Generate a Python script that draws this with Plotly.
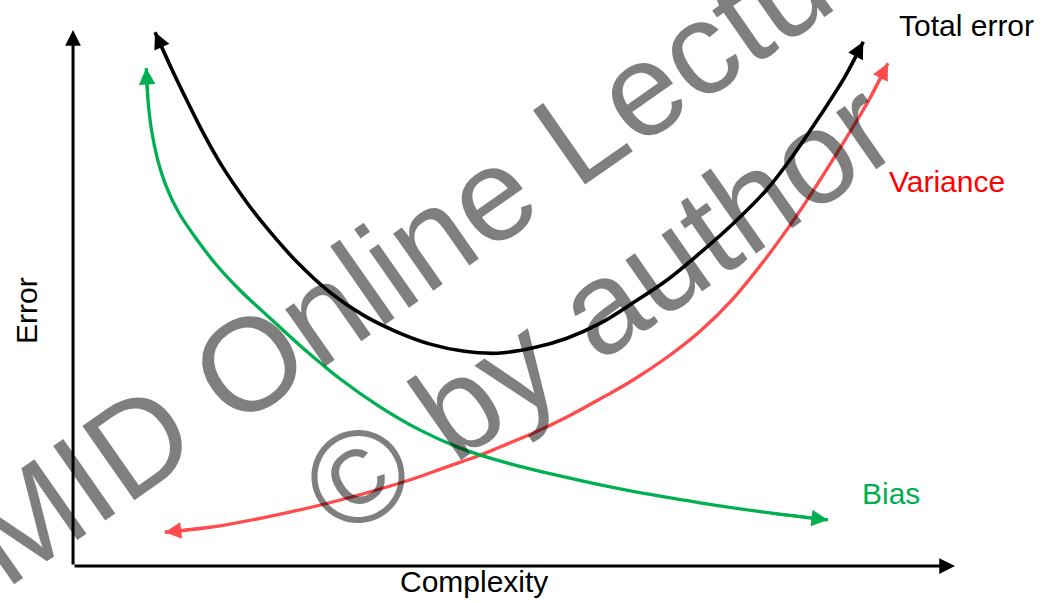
import plotly.graph_objects as go

# ---- data (complexity units on x, error units on y) ----
total_x = [0.93, 1.12, 1.29, 1.47, 1.69, 1.95, 2.15, 2.54, 2.91, 3.29, 3.67, 4.05, 4.42,
           4.81, 5.22, 5.60, 5.98, 6.35, 6.74, 7.11, 7.48, 7.87, 8.16, 8.47, 8.75, 8.96]
total_y = [9.96, 9.27, 8.69, 8.10, 7.46, 6.83, 6.40, 5.67, 5.11, 4.68, 4.37, 4.14, 4.01,
           3.97, 4.07, 4.25, 4.53, 4.91, 5.34, 5.84, 6.38, 7.03, 7.65, 8.40, 9.12, 9.78]

bias_x = [0.83, 0.85, 0.89, 0.96, 1.06, 1.20, 1.40, 1.62, 1.89, 2.21, 2.57, 3.03, 3.48,
          3.93, 4.39, 4.84, 5.52, 6.32, 7.11, 7.90, 8.56]
bias_y = [9.29, 8.69, 8.13, 7.58, 7.07, 6.59, 6.10, 5.63, 5.15, 4.66, 4.12, 3.49, 2.97,
          2.54, 2.20, 1.96, 1.68, 1.40, 1.18, 0.99, 0.86]

var_x = [1.04, 1.59, 2.15, 2.91, 3.79, 4.24, 4.62, 4.84, 5.22, 5.60, 5.98, 6.35, 6.74,
         7.11, 7.48, 7.87, 8.24, 8.55, 8.81, 9.03, 9.24]
var_y = [0.63, 0.73, 0.90, 1.18, 1.59, 1.85, 2.07, 2.22, 2.48, 2.78, 3.12, 3.47, 3.90,
         4.38, 4.98, 5.77, 6.62, 7.41, 8.10, 8.71, 9.38]

axis_max_x = 10
axis_max_y = 10

curve_names = ["Total error", "Variance", "Bias"]
axis_titles = ["Complexity", "Error"]
watermark = ["CMID Online Lecture", "\u00a9 by author"]

BLACK = "#000000"
GREEN = "#00B050"
RED_LINE = "rgb(255,75,75)"
RED_TEXT = "#FF0000"
FONT = "Arial, Liberation Sans, sans-serif"

fig = go.Figure()

curves = [
    (total_x, total_y, BLACK, 3.6),
    (var_x, var_y, RED_LINE, 3.3),
    (bias_x, bias_y, GREEN, 3.3),
]
for xs, ys, col, w in curves:
    fig.add_trace(go.Scatter(x=xs, y=ys, mode="lines",
                             line=dict(color=col, width=w, shape="spline", smoothing=1.0),
                             hoverinfo="skip", showlegend=False))

annotations = []


def arrow(x, y, ax, ay, col, w, size=1.1):
    return dict(x=x, y=y, ax=ax, ay=ay, xref="x", yref="y", axref="x", ayref="y",
                text="", showarrow=True, arrowhead=2, arrowsize=size, arrowwidth=w,
                arrowcolor=col, standoff=0, startstandoff=0)


# axes with arrow heads
annotations.append(arrow(axis_max_x, 0, 0, 0, BLACK, 3, 1.05))
annotations.append(arrow(0, axis_max_y, 0, 0, BLACK, 3, 1.05))

# double-headed curves
for xs, ys, col, w in curves:
    annotations.append(arrow(xs[0], ys[0], xs[1], ys[1], col, 3))
    annotations.append(arrow(xs[-1], ys[-1], xs[-2], ys[-2], col, 3))

W, H = 1043, 603


def px(xp, yp):
    return xp / W, 1 - yp / H


lab = [
    (curve_names[0], 897, 25, BLACK, "left", 0),
    (curve_names[1], 887, 181, RED_TEXT, "left", 0),
    (curve_names[2], 860, 493, GREEN, "left", 0),
    (axis_titles[0], 474, 581, BLACK, "center", 0),
    (axis_titles[1], 26, 311, BLACK, "center", -90),
]
for t, xp, yp, col, anc, ang in lab:
    xx, yy = px(xp, yp)
    annotations.append(dict(x=xx, y=yy, xref="paper", yref="paper", text=t, showarrow=False,
                            xanchor=anc, yanchor="middle", textangle=ang,
                            font=dict(family=FONT, size=30, color=col)))

# watermark on top
for t, xp, yp in [(watermark[0], 406, 255), (watermark[1], 598, 308)]:
    xx, yy = px(xp, yp)
    annotations.append(dict(x=xx, y=yy, xref="paper", yref="paper", text=t, showarrow=False,
                            xanchor="center", yanchor="middle", textangle=-35,
                            font=dict(family=FONT, size=132, color="rgba(0,0,0,0.5)")))

fig.update_layout(
    width=W, height=H,
    margin=dict(l=0, r=0, t=0, b=0),
    paper_bgcolor="white", plot_bgcolor="white",
    showlegend=False,
    hovermode=False,
    xaxis=dict(range=[-0.828, 10.998], visible=False, fixedrange=True),
    yaxis=dict(range=[-0.690, 10.560], visible=False, fixedrange=True),
    annotations=annotations,
)

fig.write_html("out.html", config={"displayModeBar": False, "staticPlot": True},
               post_script="document.body.style.margin='0';document.body.style.overflow='hidden';")
